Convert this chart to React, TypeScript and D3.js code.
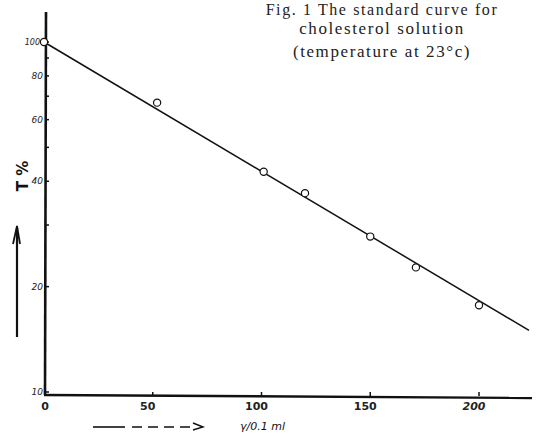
import React from 'react';
import * as d3 from 'd3';

// readings (x in γ/0.1 ml, y in T %)
const doseValues = [0, 52, 101, 120, 150, 171, 200];
const transmittance = [100, 67.1, 42.6, 37.0, 27.8, 22.7, 17.7];

// the fitted straight line, drawn end to end
const fitX = [0, 223];
const fitY = [100, 15.0];

const xTicks = [0, 50, 100, 150, 200];
const yLabelTicks = [100, 80, 60, 40, 20, 10];
const yMinorTicks = [90, 70, 50, 30];

const titleLines = ['Fig. 1 The standard curve for', 'cholesterol solution', '(temperature at 23°c)'];
const titleBaselines = [15, 34, 57];

const W = 537;
const H = 436;

const App = () => {
  const x = d3.scaleLinear().domain([0, 200]).range([44, 479]);
  const y = d3.scaleLog().domain([10, 100]).range([392, 42]);

  const line = d3.line<number>()
    .x((d, i) => x(fitX[i]))
    .y((d) => y(d));

  const axisX = x(0) + 1;
  const baseY = y(10) + 3;
  const hand = '"DejaVu Sans", sans-serif';

  return (
    <svg width={W} height={H} style={{ position: 'absolute', left: 0, top: 0, background: '#fff' }}>
      {/* title */}
      {titleLines.map((t, i) => (
        <text key={t} x={382} y={titleBaselines[i]} textAnchor="middle" letterSpacing={1.6}
          fontFamily='"Liberation Serif", serif' fontSize={i === 0 ? 16 : 17} fill="#222">{t}</text>
      ))}

      {/* axes */}
      <line x1={axisX + 1} y1={12} x2={axisX} y2={baseY} stroke="#111" strokeWidth={2.6} />
      <line x1={axisX - 1} y1={baseY} x2={W - 5} y2={baseY + 3} stroke="#111" strokeWidth={2.4} />

      {yLabelTicks.map((v) => (
        <g key={v}>
          <line x1={axisX} x2={axisX + 4} y1={y(v)} y2={y(v)} stroke="#111" strokeWidth={1.5} />
          <text x={axisX - (v === 100 ? 5 : 2)} y={y(v) + 3} textAnchor="end" fontFamily={hand}
            fontStyle="italic" fontSize={v === 100 ? 8 : 9} fill="#222">{v}</text>
        </g>
      ))}
      {yMinorTicks.map((v) => (
        <line key={v} x1={axisX} x2={axisX + 4} y1={y(v)} y2={y(v)} stroke="#111" strokeWidth={1.5} />
      ))}

      {xTicks.map((v) => (
        <g key={v}>
          {v > 0 && <line x1={x(v)} x2={x(v)} y1={baseY + 1} y2={baseY - 3} stroke="#111" strokeWidth={1.5} />}
          <text x={x(v) - (v === 0 ? -1 : 5)} y={baseY + 15} textAnchor="middle" fontFamily={hand}
            fontWeight="bold" fontStyle={v === 200 ? 'italic' : 'normal'} fontSize={11} fill="#222">{v}</text>
        </g>
      ))}

      {/* fitted line and points */}
      <path d={line(fitY) || ''} fill="none" stroke="#111" strokeWidth={1.5} />
      {doseValues.map((d, i) => (
        <circle key={d} cx={x(d)} cy={y(transmittance[i])} r={3.6}
          fill="#fff" stroke="#111" strokeWidth={1.2} />
      ))}

      {/* y axis label with arrow */}
      <text transform="translate(28,176) rotate(-90)" textAnchor="middle"
        fontFamily={hand} fontWeight="bold" fontSize={15} fill="#111">T  %</text>
      <line x1={17} y1={337} x2={17} y2={228} stroke="#111" strokeWidth={2.2} />
      <path d="M13,244 L17,226 L20,244" fill="none" stroke="#111" strokeWidth={1.8} />

      {/* x axis label with arrow */}
      <line x1={93} y1={427} x2={125} y2={427} stroke="#111" strokeWidth={1.6} />
      <line x1={132} y1={427} x2={193} y2={427} stroke="#111" strokeWidth={1.4} strokeDasharray="10 6" />
      <path d="M193,423 L203,427 L193,430" fill="none" stroke="#111" strokeWidth={1.4} />
      <text x={240} y={430} fontFamily={hand} fontStyle="italic" fontSize={11} fill="#111">γ/0.1 ml</text>
    </svg>
  );
};

export default App;
